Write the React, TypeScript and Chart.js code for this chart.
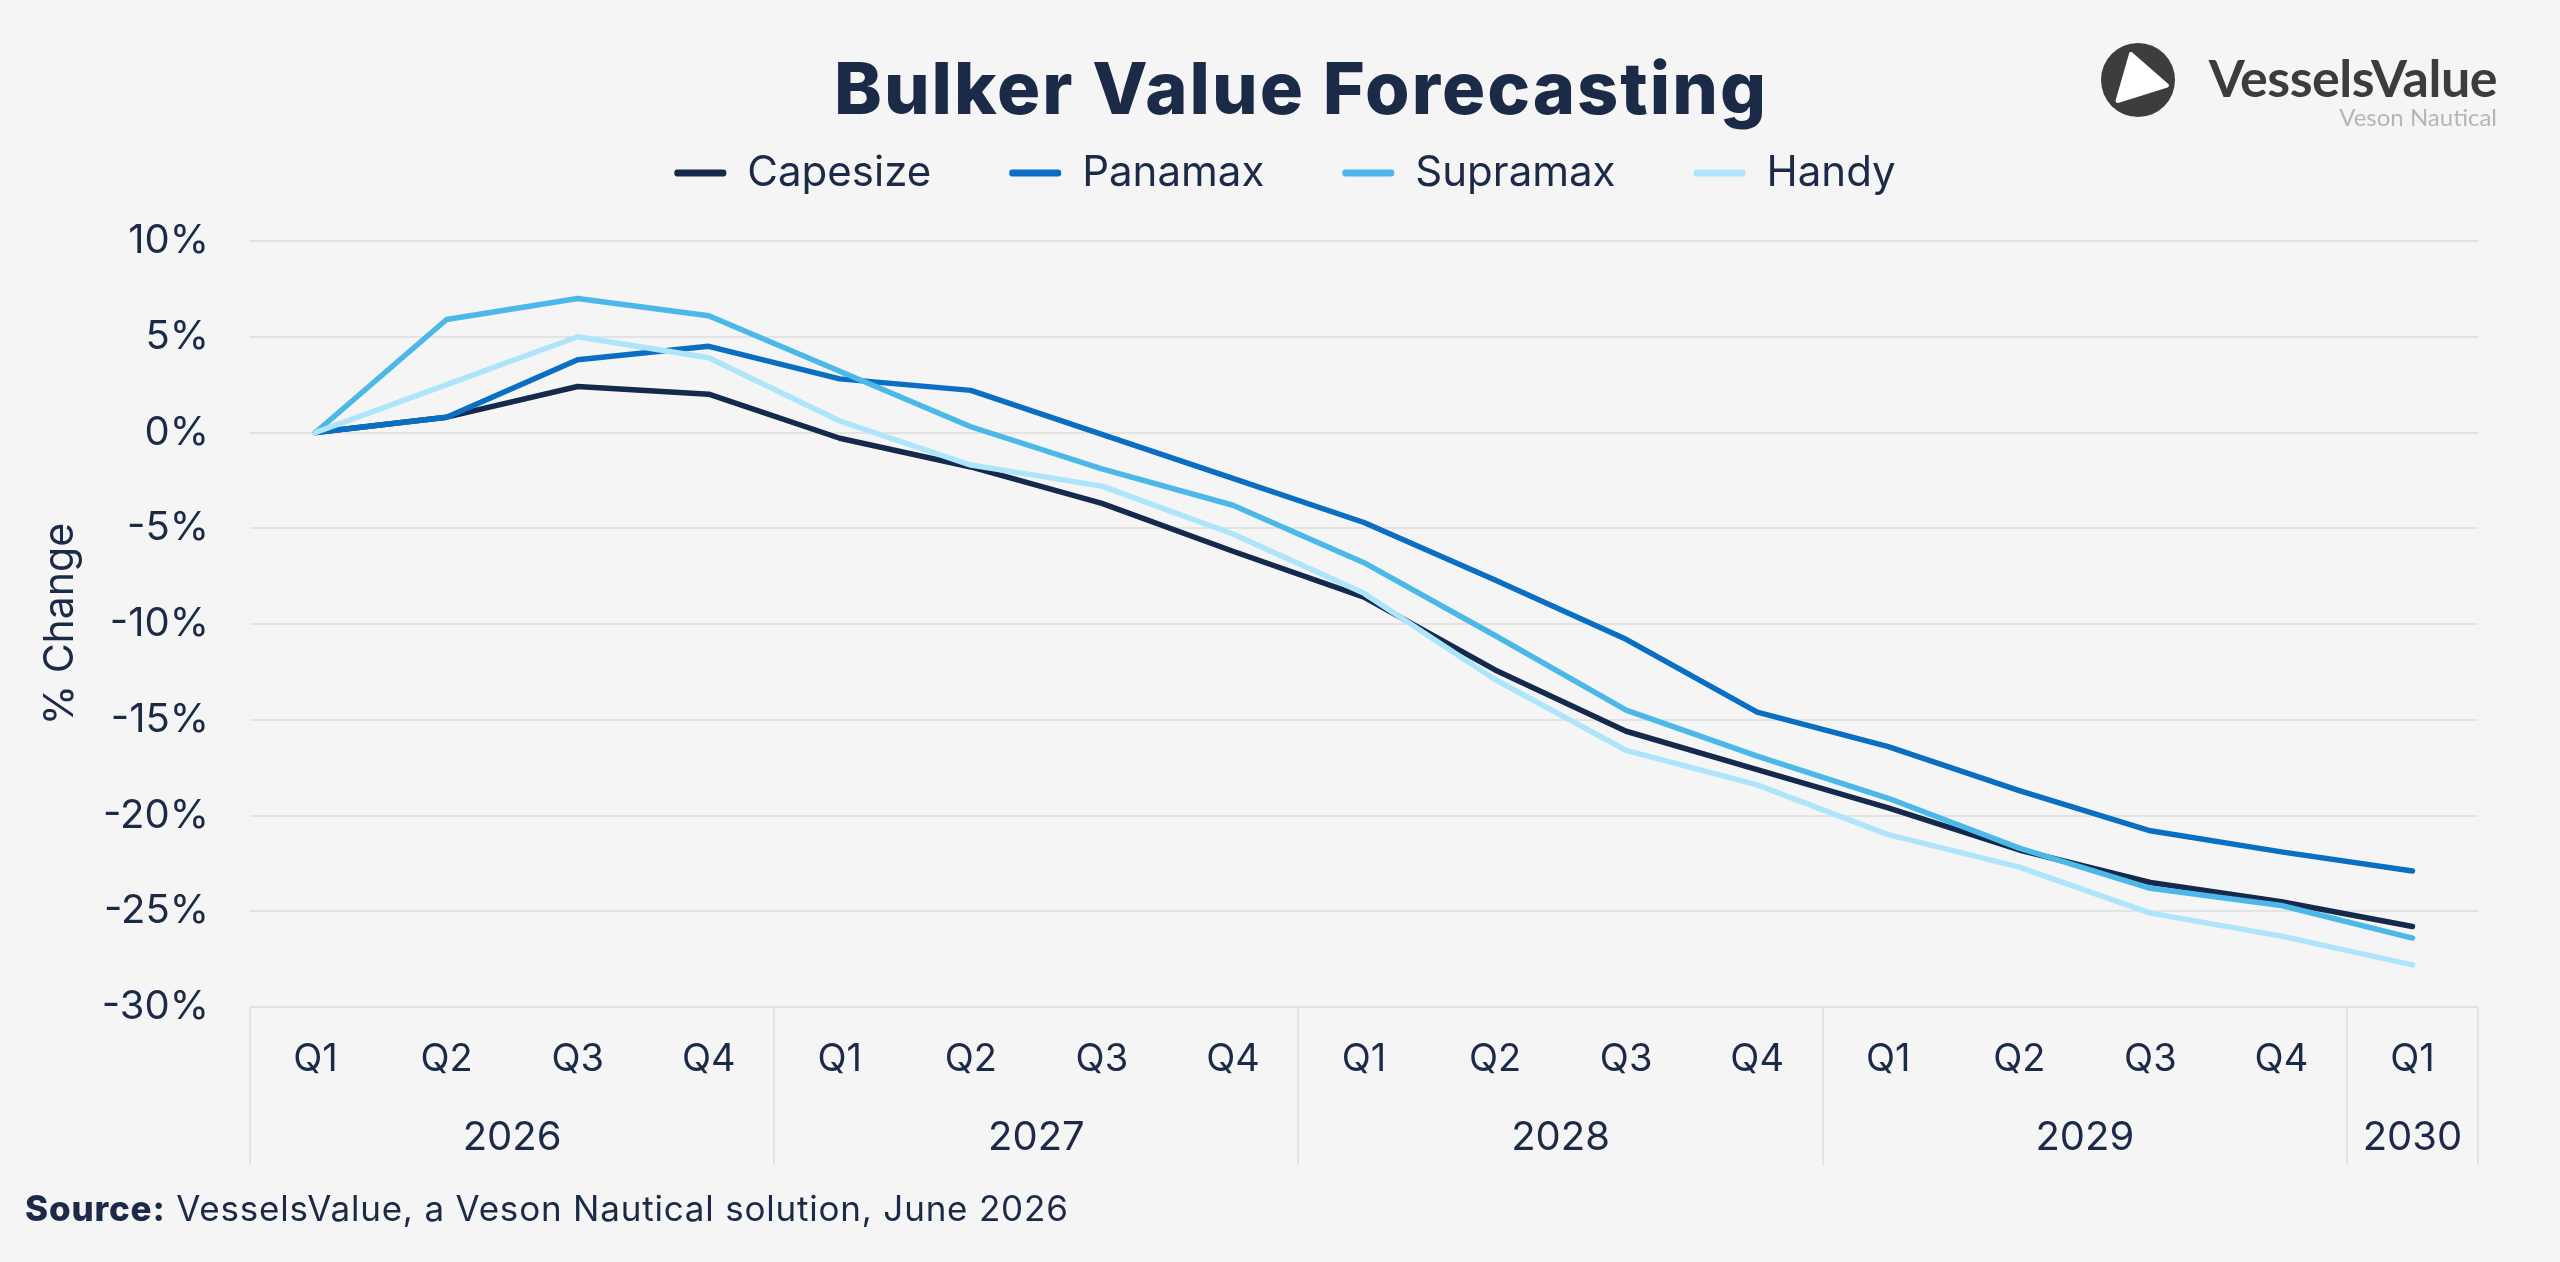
import React, { useEffect, useRef } from 'react';
import { Chart, registerables } from 'chart.js';

Chart.register(...registerables);

// ---- data ----
const quarterLabels = ['Q1', 'Q2', 'Q3', 'Q4', 'Q1', 'Q2', 'Q3', 'Q4', 'Q1', 'Q2', 'Q3', 'Q4', 'Q1', 'Q2', 'Q3', 'Q4', 'Q1'];
const yearLabels = ['2026', '2027', '2028', '2029', '2030'];
const quartersPerYear = [4, 4, 4, 4, 1];

const seriesNames = ['Capesize', 'Panamax', 'Supramax', 'Handy'];
const seriesColors = ['#14294b', '#0a6fc2', '#4bb8e8', '#aee5fa'];

const capesize = [0, 0.8, 2.4, 2.0, -0.3, -1.8, -3.7, -6.2, -8.6, -12.4, -15.6, -17.6, -19.6, -21.8, -23.5, -24.5, -25.8];
const panamax = [0, 0.8, 3.8, 4.5, 2.8, 2.2, -0.1, -2.4, -4.7, -7.7, -10.8, -14.6, -16.4, -18.7, -20.8, -21.9, -22.9];
const supramax = [0, 5.9, 7.0, 6.1, 3.2, 0.3, -1.9, -3.8, -6.8, -10.6, -14.5, -16.9, -19.1, -21.7, -23.8, -24.7, -26.4];
const handy = [0, 2.5, 5.0, 3.9, 0.6, -1.7, -2.8, -5.3, -8.4, -12.9, -16.6, -18.4, -21.0, -22.7, -25.1, -26.3, -27.8];
const seriesValues = [capesize, panamax, supramax, handy];

const yMin = -30;
const yMax = 10;
const yStep = 5;

const titleText = 'Bulker Value Forecasting';
const yAxisTitle = '% Change';
const sourceBold = 'Source:';
const sourceText = ' VesselsValue, a Veson Nautical solution, June 2026';

const NAVY = '#1b2a47';
const GRID = '#e3e3e3';
const FONT = "Inter, 'Noto Sans', sans-serif";

const LEGEND_PAD = 78;
const LAYOUT_TOP = 74;
const LEGEND_HEIGHT = 167;
const LEGEND_SHIFT = 46;

const yearAxisPlugin = {
  id: 'yearAxis',
  afterDraw(chart: any) {
    const { ctx, chartArea, scales } = chart;
    const x = scales.x;
    const half = (x.getPixelForValue(1) - x.getPixelForValue(0)) / 2;
    const top = chartArea.bottom;
    const bottom = chartArea.bottom + 158;
    ctx.save();
    ctx.strokeStyle = GRID;
    ctx.lineWidth = 2;
    ctx.fillStyle = NAVY;
    ctx.font = `400 40px ${FONT}`;
    ctx.textAlign = 'center';
    ctx.textBaseline = 'middle';
    let idx = 0;
    const bounds: number[] = [x.getPixelForValue(0) - half];
    yearLabels.forEach((yr, i) => {
      const left = x.getPixelForValue(idx) - half;
      const right = x.getPixelForValue(idx + quartersPerYear[i] - 1) + half;
      ctx.fillText(yr, (left + right) / 2, top + 131);
      bounds.push(right);
      idx += quartersPerYear[i];
    });
    bounds.forEach((b) => {
      const px = Math.round(b);
      ctx.beginPath();
      ctx.moveTo(px, top);
      ctx.lineTo(px, bottom);
      ctx.stroke();
    });
    ctx.restore();
  },
};

const legendSpacingPlugin = {
  id: 'legendSpacing',
  beforeInit(chart: any) {
    const legend = chart.legend;
    if (!legend) return;
    const origFit = legend.fit;
    legend.fit = function () {
      origFit.call(this);
      this.height = LEGEND_HEIGHT;
    };
  },
  afterLayout(chart: any) {
    const legend = chart.legend;
    if (!legend) return;
    legend.left += LEGEND_SHIFT;
    legend.right += LEGEND_SHIFT;
  },
};

function BulkerChart() {
  const ref = useRef<HTMLCanvasElement | null>(null);
  useEffect(() => {
    if (!ref.current) return;
    const chart = new Chart(ref.current, {
      type: 'line',
      data: {
        labels: quarterLabels,
        datasets: seriesNames.map((name, i) => ({
          label: name,
          data: seriesValues[i],
          borderColor: seriesColors[i],
          backgroundColor: seriesColors[i],
          borderWidth: 5.5,
          pointRadius: 0,
          pointHoverRadius: 0,
          tension: 0,
          borderCapStyle: 'round',
          borderJoinStyle: 'round',
          order: seriesNames.length - i,
        })),
      },
      options: {
        responsive: false,
        animation: false,
        devicePixelRatio: 1,
        layout: { padding: { top: LAYOUT_TOP, right: 82, bottom: 0, left: 0 } },
        plugins: {
          title: { display: false },
          tooltip: { enabled: false },
          legend: {
            display: true,
            position: 'top',
            align: 'center',
            labels: {
              color: NAVY,
              font: { family: FONT, size: 42, weight: '400' },
              boxWidth: 52,
              boxHeight: 7,
              padding: LEGEND_PAD,
              useBorderRadius: true,
              borderRadius: 3,
              sort: (a: any, b: any) => a.datasetIndex - b.datasetIndex,
              generateLabels: (c: any) =>
                (Chart as any).defaults.plugins.legend.labels
                  .generateLabels(c)
                  .map((it: any) => ({ ...it, fillStyle: it.strokeStyle, lineWidth: 0 })),
            },
          },
        },
        scales: {
          x: {
            type: 'category',
            offset: true,
            grid: { display: false, drawTicks: false },
            border: { display: false },
            ticks: {
              color: NAVY,
              font: { family: FONT, size: 38 },
              padding: 30,
              maxRotation: 0,
              autoSkip: false,
            },
            afterFit: (s: any) => {
              s.height = 255;
            },
          },
          y: {
            min: yMin,
            max: yMax,
            grid: { color: GRID, lineWidth: 2, drawTicks: false },
            border: { display: false },
            ticks: {
              stepSize: yStep,
              color: NAVY,
              font: { family: FONT, size: 40 },
              padding: 41,
              callback: (v: any) => `${v}%`,
            },
            title: {
              display: true,
              text: yAxisTitle,
              color: NAVY,
              font: { family: FONT, size: 41 },
              padding: { top: 36, bottom: 0 },
            },
            afterFit: (s: any) => {
              s.width = 250;
            },
          },
        },
      } as any,
      plugins: [yearAxisPlugin, legendSpacingPlugin],
    });
    return () => chart.destroy();
  }, []);
  return <canvas ref={ref} width={2560} height={1262} style={{ position: 'absolute', left: 0, top: 0, width: 2560, height: 1262 }} />;
}

export default function App() {
  return (
    <div
      style={{
        position: 'fixed',
        left: 0,
        top: 0,
        width: 2560,
        height: 1262,
        background: '#f5f5f5',
        overflow: 'hidden',
        fontFamily: FONT,
      }}
    >
      <BulkerChart />
      <div
        style={{
          position: 'absolute',
          left: 1301,
          top: 52,
          transform: 'translateX(-50%)',
          whiteSpace: 'nowrap',
          fontFamily: FONT,
          fontWeight: 800,
          fontSize: 72,
          lineHeight: '72px',
          letterSpacing: 2,
          color: NAVY,
        }}
      >
        {titleText}
      </div>
      <svg
        width={80}
        height={80}
        viewBox="-40 -40 80 80"
        style={{ position: 'absolute', left: 2098, top: 40 }}
      >
        <circle cx={0} cy={0} r={37} fill="#3d3d3f" />
        <path
          d="M -7 -26 L 29 5.5 L -20.5 21 Z"
          fill="#ffffff"
          stroke="#ffffff"
          strokeWidth={4}
          strokeLinejoin="round"
        />
      </svg>
      <div
        style={{
          position: 'absolute',
          right: 63,
          top: 51,
          whiteSpace: 'nowrap',
          fontFamily: "Lato, 'Open Sans', sans-serif",
          fontWeight: 700,
          fontSize: 52,
          lineHeight: '52px',
          color: '#3c3c3e',
          letterSpacing: -0.5,
        }}
      >
        VesselsValue
      </div>
      <div
        style={{
          position: 'absolute',
          right: 63,
          top: 105,
          whiteSpace: 'nowrap',
          fontFamily: "Lato, 'Open Sans', sans-serif",
          fontWeight: 400,
          fontSize: 24,
          lineHeight: '24px',
          color: '#b5b5b5',
        }}
      >
        Veson Nautical
      </div>
      <div
        style={{
          position: 'absolute',
          left: 25,
          top: 1191,
          whiteSpace: 'nowrap',
          fontFamily: FONT,
          fontSize: 35,
          lineHeight: '35px',
          letterSpacing: 0.8,
          color: NAVY,
        }}
      >
        <span style={{ fontWeight: 800 }}>{sourceBold}</span>
        <span style={{ fontWeight: 400 }}>{sourceText}</span>
      </div>
    </div>
  );
}
